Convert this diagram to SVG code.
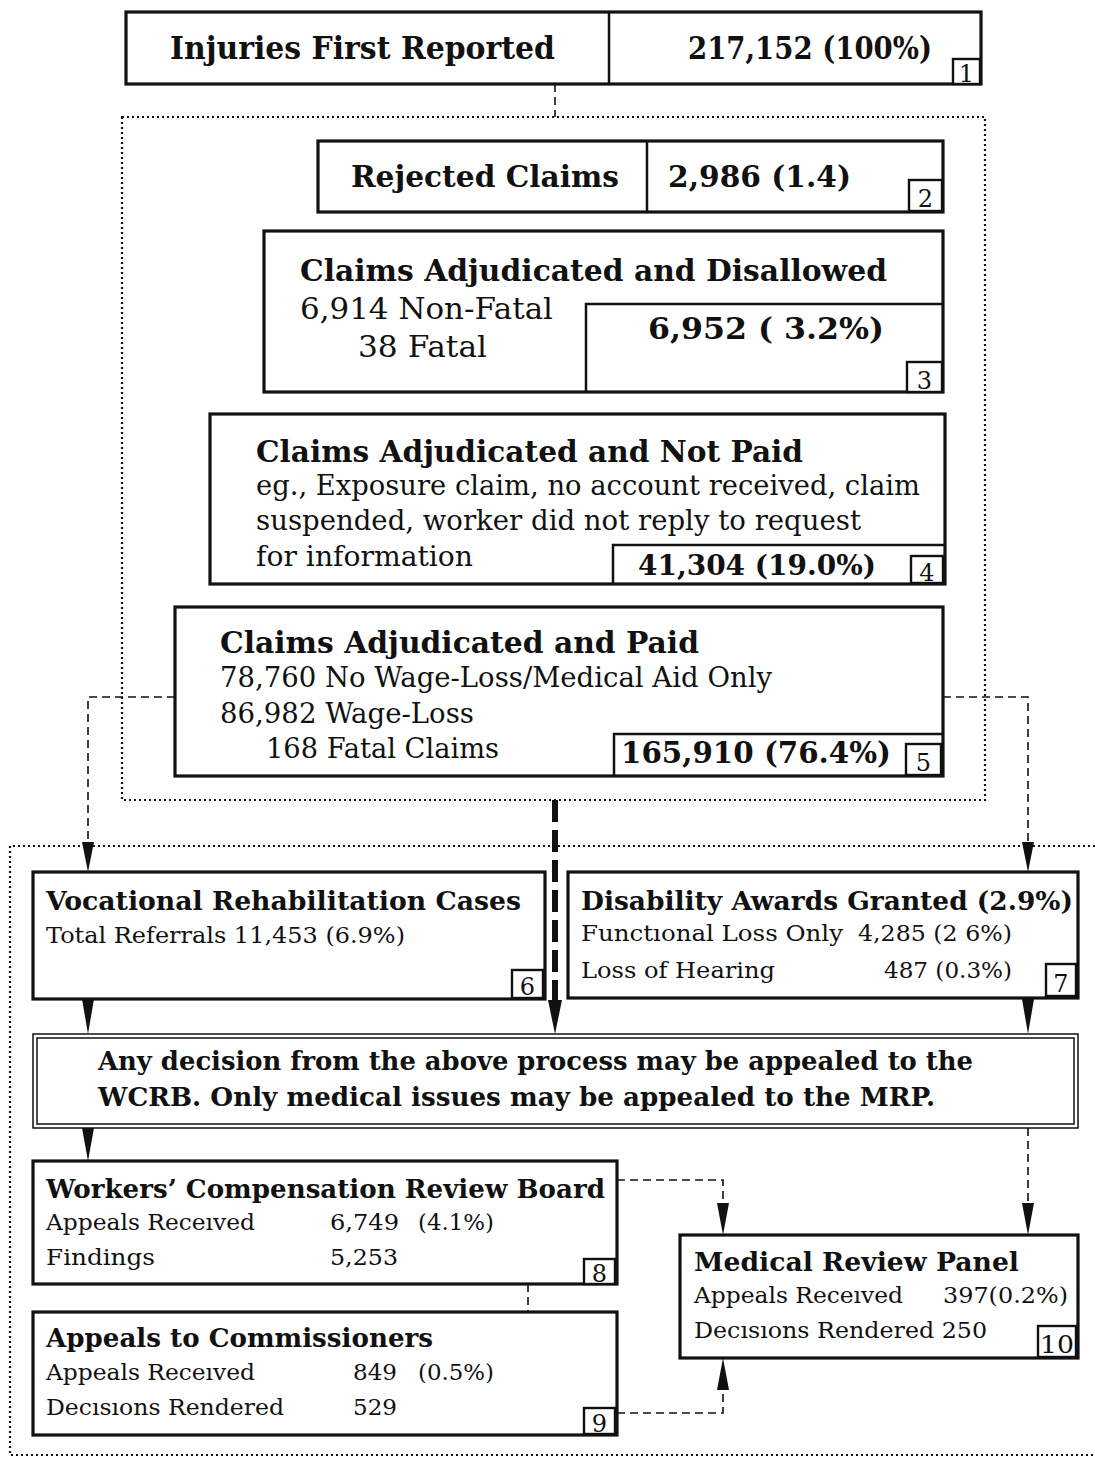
<svg xmlns="http://www.w3.org/2000/svg" width="1095" height="1462" viewBox="0 0 1095 1462">
  <style>
    .box { fill: #fff; stroke: #111; stroke-width: 3.2; }
    .tag { fill: #fff; stroke: #111; stroke-width: 2.4; }
    .dot { fill: none; stroke: #111; stroke-width: 2.2; stroke-dasharray: 2 3; }
    .dash { fill: none; stroke: #111; stroke-width: 1.6; stroke-dasharray: 8 5; }
    .thick { fill: none; stroke: #111; stroke-width: 6; stroke-dasharray: 22 8; }
    .solid { fill: none; stroke: #111; stroke-width: 2.5; }
    .dbl { fill: none; stroke: #111; stroke-width: 1.5; }
    text { font-family: "DejaVu Serif", "Liberation Serif", serif; fill: #111; }
    .b { font-weight: bold; }
    .t1 { font-size: 31px; }
    .t2 { font-size: 30px; }
    .t3 { font-size: 27px; }
    .t4 { font-size: 26px; }
    .t5 { font-size: 22px; }
    .n { font-size: 24px; text-anchor: middle; }
  </style>

  <!-- dotted grouping frames -->
  <g id="frames">
    <rect class="dot" x="122" y="117" width="863" height="683"/>
    <path class="dot" d="M1095,846 L10,846 L10,1455 L1095,1455"/>
  </g>

  <!-- connectors -->
  <g id="connectors">
    <path class="dash" d="M555,84 L555,117"/>
    <path class="dash" d="M175,697 L88,697 L88,842"/>
    <path d="M82,842 L94,842 L88,872 Z" fill="#111"/>
    <path class="dash" d="M943,697 L1028,697 L1028,842"/>
    <path d="M1022,842 L1034,842 L1028,872 Z" fill="#111"/>
    <path class="thick" d="M555,800 L555,1004"/>
    <path d="M548,1000 L562,1000 L555,1034 Z" fill="#111"/>
    <path d="M82,999 L94,999 L88,1034 Z" fill="#111"/>
    <path d="M1022,999 L1034,999 L1028,1034 Z" fill="#111"/>
    <path d="M82,1128 L94,1128 L88,1161 Z" fill="#111"/>
    <path class="dash" d="M1028,1128 L1028,1203"/>
    <path d="M1022,1203 L1034,1203 L1028,1235 Z" fill="#111"/>
    <path class="dash" d="M617,1180 L723,1180 L723,1203"/>
    <path d="M717,1203 L729,1203 L723,1235 Z" fill="#111"/>
    <path class="dash" d="M528,1284 L528,1312"/>
    <path class="dash" d="M617,1413 L723,1413 L723,1390"/>
    <path d="M717,1390 L729,1390 L723,1358 Z" fill="#111"/>
  </g>

  <!-- 1: injuries first reported -->
  <g id="n1">
    <rect class="box" x="126" y="12" width="855" height="72"/>
    <line class="solid" x1="609" y1="12" x2="609" y2="84"/>
    <text class="b t1" x="170" y="59" textLength="385" lengthAdjust="spacingAndGlyphs">Injuries First Reported</text>
    <text class="b t1" x="688" y="59" textLength="244" lengthAdjust="spacingAndGlyphs">217,152 (100%)</text>
    <rect class="tag" x="953" y="59" width="27" height="25"/>
    <text class="n" x="966.5" y="82">1</text>
  </g>

  <!-- 2: rejected claims -->
  <g id="n2">
    <rect class="box" x="318" y="141" width="625" height="71"/>
    <line class="solid" x1="647" y1="141" x2="647" y2="212"/>
    <text class="b t2" x="351" y="187" textLength="268" lengthAdjust="spacingAndGlyphs">Rejected Claims</text>
    <text class="b t2" x="668" y="187" textLength="183" lengthAdjust="spacingAndGlyphs">2,986 (1.4)</text>
    <rect class="tag" x="909" y="180" width="33" height="31"/>
    <text class="n" x="925.5" y="207">2</text>
  </g>

  <!-- 3: adjudicated and disallowed -->
  <g id="n3">
    <rect class="box" x="264" y="231" width="679" height="161"/>
    <path class="solid" d="M586,392 L586,304 L943,304"/>
    <text class="b t2" x="300" y="281" textLength="587" lengthAdjust="spacingAndGlyphs">Claims Adjudicated and Disallowed</text>
    <text class="t2" x="300" y="319" textLength="253" lengthAdjust="spacingAndGlyphs">6,914 Non-Fatal</text>
    <text class="t2" x="358" y="357" textLength="129" lengthAdjust="spacingAndGlyphs">38 Fatal</text>
    <text class="b t2" x="648" y="339" textLength="236" lengthAdjust="spacingAndGlyphs">6,952 ( 3.2%)</text>
    <rect class="tag" x="907" y="362" width="35" height="30"/>
    <text class="n" x="924.5" y="389">3</text>
  </g>

  <!-- 4: adjudicated and not paid -->
  <g id="n4">
    <rect class="box" x="210" y="414" width="735" height="170"/>
    <path class="solid" d="M613,584 L613,545 L945,545"/>
    <text class="b t2" x="256" y="462" textLength="547" lengthAdjust="spacingAndGlyphs">Claims Adjudicated and Not Paid</text>
    <text class="t3" x="256" y="495" textLength="664" lengthAdjust="spacingAndGlyphs">eg., Exposure claim, no account received, claim</text>
    <text class="t3" x="256" y="530" textLength="605" lengthAdjust="spacingAndGlyphs">suspended, worker did not reply to request</text>
    <text class="t3" x="256" y="566" textLength="217" lengthAdjust="spacingAndGlyphs">for information</text>
    <text class="b t3" x="638" y="575" textLength="238" lengthAdjust="spacingAndGlyphs">41,304 (19.0%)</text>
    <rect class="tag" x="911" y="556" width="32" height="27"/>
    <text class="n" x="927" y="581">4</text>
  </g>

  <!-- 5: adjudicated and paid -->
  <g id="n5">
    <rect class="box" x="175" y="607" width="768" height="169"/>
    <path class="solid" d="M614,776 L614,734 L943,734"/>
    <text class="b t2" x="220" y="653" textLength="479" lengthAdjust="spacingAndGlyphs">Claims Adjudicated and Paid</text>
    <text class="t3" x="220" y="687" textLength="552" lengthAdjust="spacingAndGlyphs">78,760 No Wage-Loss/Medical Aid Only</text>
    <text class="t3" x="220" y="723" textLength="254" lengthAdjust="spacingAndGlyphs">86,982 Wage-Loss</text>
    <text class="t3" x="266" y="758" textLength="233" lengthAdjust="spacingAndGlyphs">168 Fatal Claims</text>
    <text class="b t2" x="621" y="763" textLength="270" lengthAdjust="spacingAndGlyphs">165,910 (76.4%)</text>
    <rect class="tag" x="906" y="744" width="35" height="31"/>
    <text class="n" x="923.5" y="771">5</text>
  </g>

  <!-- 6: vocational rehabilitation -->
  <g id="n6">
    <rect class="box" x="33" y="872" width="512" height="127"/>
    <text class="b t4" x="46" y="910" textLength="475" lengthAdjust="spacingAndGlyphs">Vocational Rehabilitation Cases</text>
    <text class="t5" x="46" y="943" textLength="359" lengthAdjust="spacingAndGlyphs">Total Referrals 11,453 (6.9%)</text>
    <rect class="tag" x="512" y="970" width="31" height="28"/>
    <text class="n" x="527.5" y="995">6</text>
  </g>

  <!-- 7: disability awards -->
  <g id="n7">
    <rect class="box" x="568" y="872" width="510" height="126"/>
    <text class="b t4" x="581" y="910" textLength="492" lengthAdjust="spacingAndGlyphs">Disability Awards Granted (2.9%)</text>
    <text class="t5" x="581" y="941" textLength="262" lengthAdjust="spacingAndGlyphs">Functıonal Loss Only</text>
    <text class="t5" x="858" y="941" textLength="154" lengthAdjust="spacingAndGlyphs">4,285 (2 6%)</text>
    <text class="t5" x="581" y="978" textLength="194" lengthAdjust="spacingAndGlyphs">Loss of Hearing</text>
    <text class="t5" x="884" y="978" textLength="128" lengthAdjust="spacingAndGlyphs">487 (0.3%)</text>
    <rect class="tag" x="1046" y="964" width="30" height="32"/>
    <text class="n" x="1061" y="992">7</text>
  </g>

  <!-- appeal note -->
  <g id="appeal">
    <rect class="dbl" x="33" y="1034" width="1045" height="94"/>
    <rect class="dbl" x="37" y="1038" width="1037" height="86"/>
    <text class="b t4" x="98" y="1070" textLength="875" lengthAdjust="spacingAndGlyphs">Any decision from the above process may be appealed to the</text>
    <text class="b t4" x="98" y="1106" textLength="837" lengthAdjust="spacingAndGlyphs">WCRB. Only medical issues may be appealed to the MRP.</text>
  </g>

  <!-- 8: review board -->
  <g id="n8">
    <rect class="box" x="33" y="1161" width="584" height="123"/>
    <text class="b t4" x="46" y="1198" textLength="559" lengthAdjust="spacingAndGlyphs">Workers’ Compensation Review Board</text>
    <text class="t5" x="46" y="1230" textLength="209" lengthAdjust="spacingAndGlyphs">Appeals Receıved</text>
    <text class="t5" x="330" y="1230" textLength="69" lengthAdjust="spacingAndGlyphs">6,749</text>
    <text class="t5" x="418" y="1230" textLength="76" lengthAdjust="spacingAndGlyphs">(4.1%)</text>
    <text class="t5" x="46" y="1265" textLength="109" lengthAdjust="spacingAndGlyphs">Findings</text>
    <text class="t5" x="330" y="1265" textLength="68" lengthAdjust="spacingAndGlyphs">5,253</text>
    <rect class="tag" x="584" y="1259" width="31" height="25"/>
    <text class="n" x="599.5" y="1282">8</text>
  </g>

  <!-- 9: commissioners -->
  <g id="n9">
    <rect class="box" x="33" y="1312" width="584" height="123"/>
    <text class="b t4" x="46" y="1347" textLength="387" lengthAdjust="spacingAndGlyphs">Appeals to Commissioners</text>
    <text class="t5" x="46" y="1380" textLength="209" lengthAdjust="spacingAndGlyphs">Appeals Receıved</text>
    <text class="t5" x="353" y="1380" textLength="44" lengthAdjust="spacingAndGlyphs">849</text>
    <text class="t5" x="418" y="1380" textLength="76" lengthAdjust="spacingAndGlyphs">(0.5%)</text>
    <text class="t5" x="46" y="1415" textLength="238" lengthAdjust="spacingAndGlyphs">Decısıons Rendered</text>
    <text class="t5" x="353" y="1415" textLength="44" lengthAdjust="spacingAndGlyphs">529</text>
    <rect class="tag" x="584" y="1408" width="31" height="26"/>
    <text class="n" x="599.5" y="1432">9</text>
  </g>

  <!-- 10: medical review panel -->
  <g id="n10">
    <rect class="box" x="680" y="1235" width="398" height="123"/>
    <text class="b t4" x="694" y="1271" textLength="325" lengthAdjust="spacingAndGlyphs">Medical Review Panel</text>
    <text class="t5" x="694" y="1303" textLength="209" lengthAdjust="spacingAndGlyphs">Appeals Receıved</text>
    <text class="t5" x="943" y="1303" textLength="125" lengthAdjust="spacingAndGlyphs">397(0.2%)</text>
    <text class="t5" x="694" y="1338" textLength="293" lengthAdjust="spacingAndGlyphs">Decısıons Rendered 250</text>
    <rect class="tag" x="1038" y="1326" width="38" height="31"/>
    <text class="n" x="1057" y="1353" textLength="34" lengthAdjust="spacingAndGlyphs">10</text>
  </g>
</svg>
